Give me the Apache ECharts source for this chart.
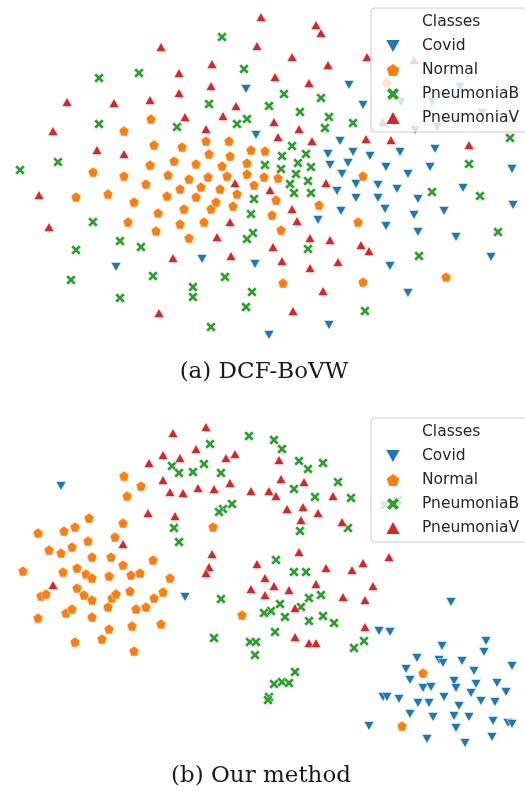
<!DOCTYPE html>
<html><head><meta charset="utf-8">
<script src="https://cdn.jsdelivr.net/npm/echarts@6/dist/echarts.min.js"></script>
<style>html,body{margin:0;padding:0;background:#fff}#c{width:525px;height:791px}</style>
</head><body><div id="c"></div>
<script>
// Class names and legend title
const classes = ['Covid', 'Normal', 'PneumoniaB', 'PneumoniaV'];
const legendTitle = 'Classes';
const captions = ['(a) DCF-BoVW', '(b) Our method'];

// Panel (a): DCF-BoVW embedding, [x, y]
const covidA = [[246,89],[256,135],[349,85],[363,105],[340,141],[328,154],[353,152],[370,156],[400,152],[435,149],[330,165],[348,163],[386,167],[408,174],[430,167],[512,169],[342,174],[356,184],[378,185],[397,189],[337,191],[356,198],[378,198],[418,199],[463,188],[385,209],[414,215],[444,211],[341,211],[318,220],[513,205],[386,226],[418,232],[456,237],[491,257],[390,266],[408,293],[329,325],[269,335],[116,267],[202,259],[255,264],[401,102],[432,102],[415,130],[437,127],[460,87],[482,113]];
const normalA = [[151,119],[124,131],[154,145],[182,147],[206,141],[229,141],[209,154],[230,156],[251,150],[265,151],[150,165],[174,161],[196,164],[222,166],[247,163],[93,172],[124,176],[168,175],[189,179],[208,177],[227,176],[247,174],[264,177],[278,178],[146,184],[76,197],[108,194],[134,202],[167,196],[180,189],[196,197],[201,187],[220,189],[237,194],[254,185],[158,213],[184,209],[211,209],[216,202],[233,206],[128,222],[156,231],[180,224],[204,222],[189,238],[272,215],[276,200],[281,230],[319,205],[363,176],[358,222],[283,283],[363,282],[446,277],[387,83]];
const pneuBA = [[222,37],[139,73],[99,78],[244,69],[209,104],[99,124],[177,127],[237,124],[247,119],[58,162],[20,170],[284,94],[321,98],[269,106],[300,112],[329,117],[325,128],[353,123],[292,146],[306,154],[282,156],[298,163],[311,167],[265,165],[281,169],[296,174],[308,181],[290,184],[294,193],[311,193],[254,199],[251,214],[253,233],[247,239],[93,222],[120,241],[141,247],[76,250],[71,280],[153,276],[225,277],[193,287],[193,297],[120,298],[252,292],[246,307],[211,327],[510,138],[469,164],[432,192],[480,196],[498,232],[308,249],[419,256],[365,311]];
const pneuVA = [[261,17],[161,47],[257,46],[212,64],[179,73],[211,86],[179,93],[67,102],[114,103],[150,100],[236,106],[185,117],[223,116],[206,129],[53,131],[97,150],[124,154],[316,25],[321,33],[292,57],[328,65],[367,57],[275,77],[309,83],[274,122],[299,129],[278,137],[312,141],[366,139],[391,140],[469,145],[39,195],[49,227],[235,183],[230,222],[217,237],[173,258],[231,256],[159,313],[270,190],[326,183],[292,209],[297,221],[310,238],[330,240],[273,247],[361,245],[369,251],[282,261],[310,268],[338,262],[323,291],[293,311],[414,60],[383,122]];

// Panel (b): Our method embedding, [x, y]
const covidB = [[61,486],[185,597],[451,602],[379,631],[390,632],[442,646],[486,641],[484,652],[417,658],[439,660],[443,663],[462,661],[512,666],[406,669],[474,671],[410,680],[454,681],[456,688],[476,684],[497,683],[423,688],[431,687],[471,693],[506,692],[383,697],[387,697],[399,699],[418,703],[429,703],[444,697],[459,706],[481,701],[495,702],[410,714],[433,717],[454,716],[469,717],[493,721],[508,723],[512,724],[369,726],[456,728],[427,739],[492,737],[465,743]];
const normalB = [[124,476],[141,486],[127,496],[89,518],[123,523],[38,533],[64,531],[75,527],[115,537],[213,527],[49,550],[61,553],[72,547],[88,541],[92,557],[111,557],[153,560],[123,565],[23,571],[63,572],[77,568],[86,574],[92,578],[109,576],[131,575],[140,573],[170,578],[77,588],[130,591],[163,592],[41,596],[46,594],[84,595],[92,600],[112,598],[116,594],[154,598],[38,618],[66,613],[72,609],[92,617],[108,607],[136,609],[146,607],[132,626],[161,624],[109,629],[75,642],[102,639],[134,651],[242,615],[423,673],[402,726]];
const pneuBB = [[249,436],[210,444],[172,466],[179,473],[193,472],[204,464],[221,473],[232,504],[223,509],[219,512],[174,528],[179,542],[274,440],[282,449],[299,461],[308,469],[323,463],[338,482],[294,489],[315,497],[351,498],[300,531],[348,528],[276,560],[294,572],[306,572],[321,595],[309,598],[221,599],[280,604],[301,607],[271,611],[264,613],[285,617],[323,616],[309,621],[334,623],[275,632],[214,638],[250,642],[256,642],[255,655],[354,648],[364,641],[295,672],[274,684],[282,682],[289,683],[269,697],[268,700],[385,505],[398,500]];
const pneuVB = [[206,427],[173,433],[163,455],[180,458],[196,449],[226,458],[235,454],[149,463],[163,480],[170,492],[183,493],[198,488],[214,489],[230,483],[251,491],[148,513],[175,516],[123,544],[212,554],[209,567],[206,573],[257,564],[53,585],[251,589],[279,460],[281,479],[304,482],[269,491],[276,496],[333,496],[287,509],[303,507],[318,513],[301,520],[342,522],[299,552],[326,568],[352,570],[363,563],[389,557],[265,578],[274,586],[289,590],[316,584],[265,595],[295,608],[343,597],[365,600],[373,586],[365,627],[295,637],[309,643],[316,643]];

const colors = {Covid:'#1f77b4', Normal:'#ff7f0e', PneumoniaB:'#2ca02c', PneumoniaV:'#d62728'};
const symbols = {
  Covid: 'path://M0,0 L10,0 L5,9 Z',
  Normal: 'path://M5,0 L9.755,3.455 L7.939,9.045 L2.061,9.045 L0.245,3.455 Z',
  PneumoniaB: 'path://M0,2.2 L2.2,0 L5,2.8 L7.8,0 L10,2.2 L7.2,5 L10,7.8 L7.8,10 L5,7.2 L2.2,10 L0,7.8 L2.8,5 Z',
  PneumoniaV: 'path://M5,0 L10,9 L0,9 Z'
};
const sizes = {Covid:[10,9], Normal:[10,10], PneumoniaB:[10,10], PneumoniaV:[10,9]};

const panels = [
  {Covid: covidA, Normal: normalA, PneumoniaB: pneuBA, PneumoniaV: pneuVA},
  {Covid: covidB, Normal: normalB, PneumoniaB: pneuBB, PneumoniaV: pneuVB}
];

const series = [{name: legendTitle, type:'scatter', data:[], xAxisIndex:0, yAxisIndex:0}];
panels.forEach((p, i) => {
  classes.forEach(c => {
    series.push({
      name: c, type: 'scatter', xAxisIndex: i, yAxisIndex: i,
      data: p[c], symbol: symbols[c], symbolSize: sizes[c],
      itemStyle: {color: colors[c], borderColor: '#fff', borderWidth: 0.5, opacity: 1},
      emphasis: {disabled: true}
    });
  });
});

function legend(top) {
  return {
    orient: 'vertical', left: 371, top: top,
    data: [{name: legendTitle, icon: 'none'}].concat(classes),
    itemWidth: 28, itemHeight: 12, itemGap: 0,
    padding: [2, 40, 2, 8],
    backgroundColor: 'rgba(255,255,255,0.8)',
    borderColor: '#cccccc', borderWidth: 1, borderRadius: 4,
    selectedMode: false,
    itemStyle: {borderWidth: 0},
    textStyle: {fontFamily: 'DejaVu Sans', fontSize: 15.5, color: '#262626', lineHeight: 24, padding: [0,0,0,10]}
  };
}

const chart = echarts.init(document.getElementById('c'), null, {renderer: 'canvas'});
chart.setOption({
  animation: false,
  backgroundColor: '#fff',
  grid: [
    {left: 0, top: 0, width: 525, height: 350},
    {left: 0, top: 400, width: 525, height: 370}
  ],
  xAxis: [
    {gridIndex: 0, type: 'value', min: 0, max: 525, show: false},
    {gridIndex: 1, type: 'value', min: 0, max: 525, show: false}
  ],
  yAxis: [
    {gridIndex: 0, type: 'value', min: 0, max: 350, inverse: true, show: false},
    {gridIndex: 1, type: 'value', min: 400, max: 770, inverse: true, show: false}
  ],
  legend: [legend(8), legend(418)],
  series: series,
  graphic: [
    {type: 'text', x: 264, y: 372, style: {text: captions[0], align: 'center', verticalAlign: 'middle', fontSize: 23, fontFamily: 'DejaVu Serif', fill: '#1a1a1a'}},
    {type: 'text', x: 261, y: 776, style: {text: captions[1], align: 'center', verticalAlign: 'middle', fontSize: 23, fontFamily: 'DejaVu Serif', fill: '#1a1a1a'}}
  ]
});
</script></body></html>
